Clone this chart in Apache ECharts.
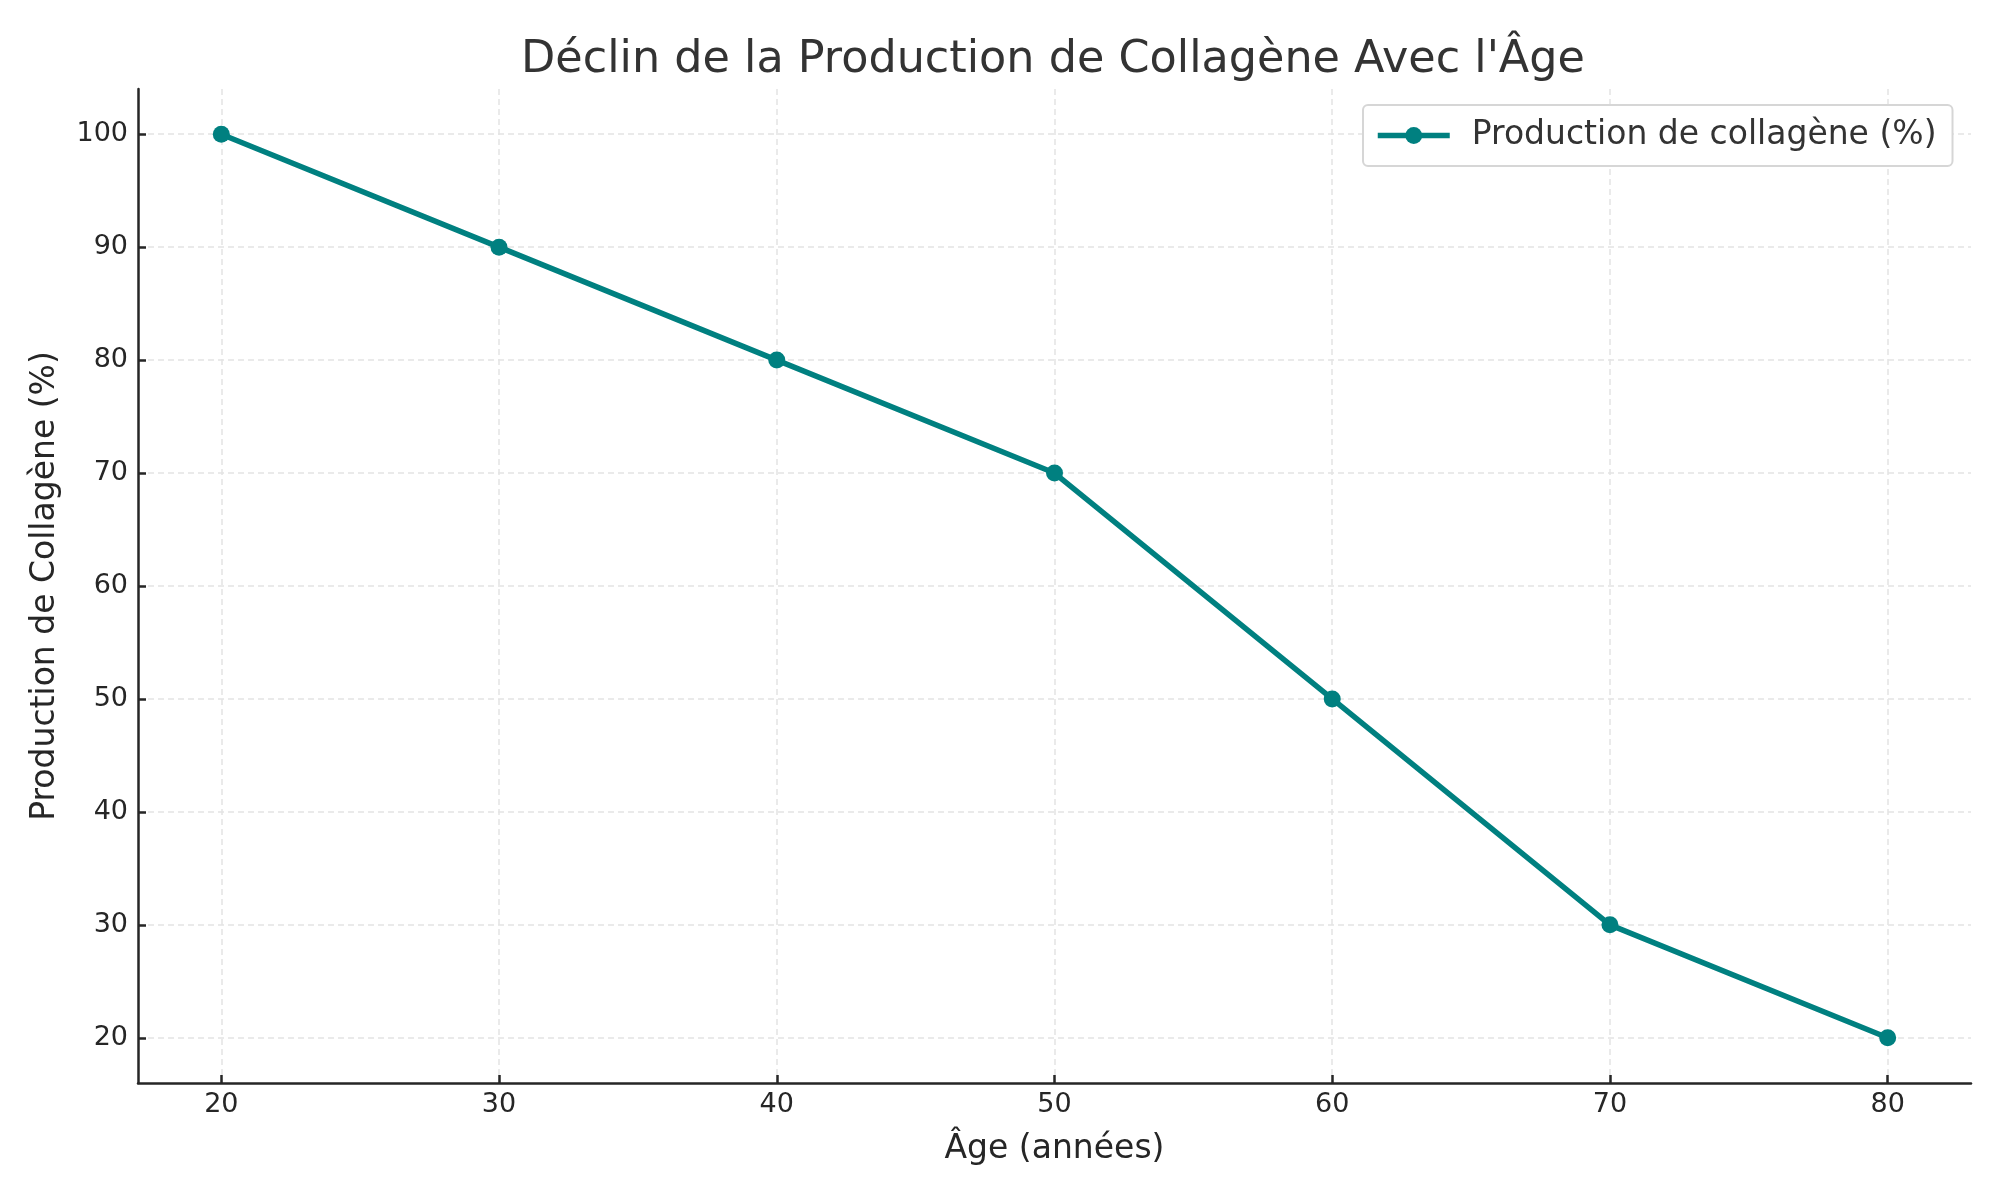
<!DOCTYPE html>
<html><head><meta charset="utf-8">
<script src="https://cdn.jsdelivr.net/npm/echarts@6/dist/echarts.min.js"></script>
<style>html,body{margin:0;padding:0;background:#fff}#c{width:2000px;height:1200px}</style>
</head><body><div id="c"></div>
<script>
const ages = [20, 30, 40, 50, 60, 70, 80];
const collagen = [100, 90, 80, 70, 50, 30, 20];
const xTicks = [20, 30, 40, 50, 60, 70, 80];
const yTicks = [20, 30, 40, 50, 60, 70, 80, 90, 100];

const chart = echarts.init(document.getElementById('c'), null, {renderer: 'canvas'});
const font = 'DejaVu Sans';
const axisColor = '#262626';
chart.setOption({
  backgroundColor: '#fff',
  animation: false,
  title: {
    text: "Déclin de la Production de Collagène Avec l'Âge",
    left: 1048, top: 33, textAlign: 'center',
    textStyle: {fontFamily: font, fontSize: 44.5, fontWeight: 'normal', color: '#333'}
  },
  legend: {
    left: 1363, top: 105,
    padding: [13, 16, 13, 12],
    borderColor: '#d6d6d6', borderWidth: 2, borderRadius: 5,
    backgroundColor: '#fff',
    itemWidth: 72, itemHeight: 21, itemGap: 10,
    lineStyle: {width: 5.5},
    textStyle: {fontFamily: font, fontSize: 33, lineHeight: 35, color: '#333', padding: [0,0,0,17]},
    data: ['Production de collagène (%)']
  },
  grid: {left: 138, right: 29, top: 89, bottom: 117, containLabel: false},
  xAxis: {
    type: 'value', min: 17, max: 83,
    name: 'Âge (années)', nameLocation: 'middle', nameGap: 50,
    nameTextStyle: {fontFamily: font, fontSize: 33, color: '#262626', verticalAlign: 'top'},
    axisLine: {show: true, onZero: false, lineStyle: {color: axisColor, width: 2.5}},
    axisTick: {show: true, inside: true, length: 8, lineStyle: {color: axisColor, width: 2.5}, customValues: xTicks},
    axisLabel: {fontFamily: font, fontSize: 27, color: '#262626', margin: 8, customValues: xTicks},
    splitLine: {show: true, lineStyle: {color: '#e3e3e3', type: [6, 4], width: 1.5}}
  },
  yAxis: {
    type: 'value', min: 16, max: 104,
    name: 'Production de Collagène (%)', nameLocation: 'middle', nameGap: 76,
    nameTextStyle: {fontFamily: font, fontSize: 33, color: '#262626'},
    axisLine: {show: true, onZero: false, lineStyle: {color: axisColor, width: 2.5}},
    axisTick: {show: true, inside: true, length: 8, lineStyle: {color: axisColor, width: 2.5}, customValues: yTicks},
    axisLabel: {fontFamily: font, fontSize: 27, color: '#262626', margin: 10, customValues: yTicks},
    splitLine: {show: true, lineStyle: {color: '#e3e3e3', type: [6, 4], width: 1.5}}
  },
  series: [{
    name: 'Production de collagène (%)',
    type: 'line',
    data: ages.map((a, i) => [a, collagen[i]]),
    symbol: 'circle', symbolSize: 17,
    lineStyle: {color: '#008080', width: 5.5},
    itemStyle: {color: '#008080'},
    z: 3
  }]
});
</script></body></html>
